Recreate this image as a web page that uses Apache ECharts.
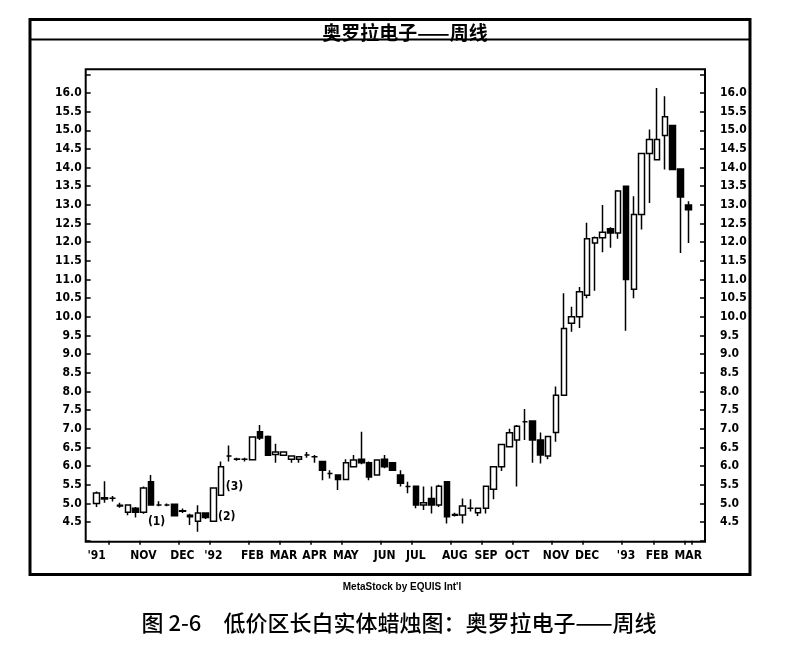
<!DOCTYPE html>
<html>
<head>
<meta charset="utf-8">
<script src="https://cdn.jsdelivr.net/npm/echarts@6.0.0/dist/echarts.min.js"></script>
<style>
body { margin: 0; background: #fff; }
#chart { width: 794px; height: 645px; }
</style>
</head>
<body>
<div id="chart"></div>
<script>
// weekly candles, Sep 1991 - Mar 1993
var opens = [5.0, 5.15, 5.14, 4.95, 4.76, 4.87, 4.76, 5.58, 4.96, 4.96,
	4.98, 4.8, 4.68, 4.52, 4.74, 4.52, 5.22, 6.27, 6.19, 6.18,
	6.17, 6.92, 6.79, 6.31, 6.29, 6.18, 6.18, 6.3, 6.25, 6.12,
	5.8, 5.76, 5.64, 5.98, 6.18, 6.09, 5.76, 6.18, 6.09, 5.76,
	5.45, 5.46, 4.96, 5.13, 4.96, 5.58, 4.7, 4.69, 4.87, 4.75,
	4.87, 5.38, 5.98, 6.52, 6.7, 7.19, 7.21, 6.7, 6.27, 6.9,
	7.9, 9.83, 10.0, 10.58, 11.98, 12.12, 12.36, 12.25, 13.5, 10.74,
	12.74, 14.38, 14.21, 14.86, 15.13, 13.96, 13.0];
var closes = [5.28, 5.12, 5.14, 4.93, 4.96, 4.76, 5.41, 4.96, 4.96, 4.96,
	4.67, 4.79, 4.64, 4.74, 4.62, 5.41, 5.98, 6.27, 6.18, 6.18,
	6.78, 6.75, 6.29, 6.38, 6.38, 6.27, 6.25, 6.3, 6.25, 5.89,
	5.8, 5.64, 6.09, 6.16, 6.09, 5.71, 6.16, 5.98, 5.89, 5.54,
	5.45, 4.96, 5.02, 4.96, 5.46, 4.64, 4.68, 4.93, 4.87, 4.87,
	5.46, 5.98, 6.58, 6.89, 7.07, 7.19, 6.7, 6.3, 6.79, 7.9,
	9.69, 10.0, 10.67, 12.09, 12.12, 12.27, 12.25, 13.37, 11.0, 12.74,
	14.38, 14.75, 14.75, 15.36, 13.95, 13.21, 12.87];
var lows = [4.9, 5.02, 5.05, 4.88, 4.68, 4.62, 4.72, 4.95, 4.92, 4.92,
	4.66, 4.74, 4.42, 4.24, 4.58, 4.5, 5.2, 6.12, 6.14, 6.12,
	6.16, 6.7, 6.28, 6.09, 6.27, 6.09, 6.09, 6.22, 6.09, 5.62,
	5.67, 5.36, 5.62, 5.96, 6.05, 5.62, 5.74, 5.94, 5.87, 5.45,
	5.27, 4.87, 4.82, 4.73, 4.9, 4.46, 4.65, 4.46, 4.78, 4.66,
	4.73, 5.11, 5.87, 6.5, 5.45, 6.7, 6.09, 6.07, 6.18, 6.65,
	7.88, 9.6, 9.7, 10.5, 10.7, 11.73, 11.85, 12.09, 9.63, 10.5,
	12.34, 13.05, 14.2, 13.95, 13.93, 11.71, 11.98];
var highs = [5.32, 5.59, 5.2, 5.02, 4.98, 4.9, 5.45, 5.76, 5.06, 5.0,
	5.0, 4.86, 4.72, 4.95, 4.76, 5.42, 6.12, 6.55, 6.22, 6.22,
	6.8, 7.1, 6.82, 6.6, 6.4, 6.28, 6.27, 6.38, 6.3, 6.14,
	5.89, 5.78, 6.18, 6.3, 6.92, 6.12, 6.18, 6.3, 6.11, 5.89,
	5.58, 5.48, 5.45, 5.45, 5.5, 5.6, 4.75, 5.13, 5.11, 4.89,
	5.48, 6.0, 6.6, 7.0, 7.1, 7.53, 7.23, 6.9, 6.81, 8.13,
	10.63, 10.27, 10.8, 12.52, 12.15, 13.0, 12.4, 13.4, 13.52, 13.23,
	14.4, 15.02, 16.13, 15.91, 15.15, 13.98, 13.1];

// month labels on the time axis (candle index -> text)
var labelIdx = [0, 6, 11, 15, 20, 24, 28, 32, 37, 41, 46, 50, 54, 59, 63, 68, 72, 76];
var labelText = ["'91", "NOV", "DEC", "'92", "FEB", "MAR", "APR", "MAY", "JUN", "JUL",
	"AUG", "SEP", "OCT", "NOV", "DEC", "'93", "FEB", "MAR"];
var tickIdx = [2, 6, 11, 15, 20, 24, 28, 32, 37, 41, 46, 50, 54, 59, 63, 68, 72, 76];

// notes on the chart: candle index, price, text
var noteIdx = [6, 15, 16];
var notePrice = [4.5, 4.63, 5.43];
var noteText = ['(1)', '(2)', '(3)'];

var weeks = [];
for (var i = 0; i < opens.length; i++) {
	var d = new Date(1991, 8, 20 + 7 * i);
	weeks.push(d.getFullYear() + '-' + (d.getMonth() + 1) + '-' + d.getDate());
}

var candles = [];
for (var i = 0; i < opens.length; i++) {
	candles.push([opens[i], closes[i], lows[i], highs[i]]);
}

var notes = [];
for (var i = 0; i < noteIdx.length; i++) {
	notes.push({ coord: [weeks[noteIdx[i]], notePrice[i]], value: noteText[i] });
}

var narrow = "'Liberation Sans Narrow', 'DejaVu Sans Condensed', sans-serif";
var cjk = "'Noto Sans CJK SC', sans-serif";

function yLabel(v) {
	if (v < 4.4 || v > 16.1) return '';
	return v.toFixed(1);
}

var chart = echarts.init(document.getElementById('chart'), null, { renderer: 'canvas' });
chart.setOption({
	backgroundColor: '#fff',
	animation: false,
	title: [ {
		text: '奥罗拉电子——周线',
		left: 400, top: 18, textAlign: 'center',
		textStyle: { fontFamily: cjk, fontSize: 19, fontWeight: 'bold', color: '#000' }
	}, {
		text: "MetaStock by EQUIS Int'l",
		left: 397, top: 577, textAlign: 'center',
		textStyle: { fontFamily: "'Liberation Sans', Arial, sans-serif", fontSize: 10, fontWeight: 'bold', color: '#000' }
	}, {
		text: '图 2-6　低价区长白实体蜡烛图：奥罗拉电子——周线',
		left: 394, top: 607, textAlign: 'center',
		textStyle: { fontFamily: cjk, fontSize: 22, fontWeight: 500, color: '#000' }
	} ],
	grid: { left: 92.8, right: 101.8, top: 74.3, bottom: 104.3 },
	xAxis: {
		type: 'category',
		data: weeks,
		boundaryGap: true,
		axisLine: { show: false },
		axisTick: {
			show: true, length: 4, inside: false,
			interval: function(idx) { return tickIdx.indexOf(idx) >= 0; },
			lineStyle: { color: '#000', width: 1.5 }
		},
		axisLabel: {
			interval: function(idx) { return labelIdx.indexOf(idx) >= 0; },
			formatter: function(v, idx) {
				var k = labelIdx.indexOf(idx);
				return k >= 0 ? labelText[k] : '';
			},
			margin: 9,
			color: '#000', fontFamily: narrow, fontSize: 12, fontWeight: 'bold'
		},
		splitLine: { show: false }
	},
	yAxis: [ {
		type: 'value', position: 'left', offset: 7.1,
		min: 4, max: 16.5, interval: 0.5,
		axisLine: { show: false },
		axisTick: { show: true, inside: true, length: 5, lineStyle: { color: '#000', width: 1.5 } },
		axisLabel: { formatter: yLabel, margin: 4, color: '#000', fontFamily: narrow, fontSize: 12, fontWeight: 'bold' },
		splitLine: { show: false }
	}, {
		type: 'value', position: 'right', offset: 12.8,
		min: 4, max: 16.5, interval: 0.5,
		axisLine: { show: false },
		axisTick: { show: true, inside: true, length: 5, lineStyle: { color: '#000', width: 1.5 } },
		axisLabel: { formatter: yLabel, margin: 15, color: '#000', fontFamily: narrow, fontSize: 12, fontWeight: 'bold' },
		splitLine: { show: false }
	} ],
	series: [ {
		name: '奥罗拉电子',
		type: 'candlestick',
		data: candles,
		barWidth: 6,
		itemStyle: {
			color: '#fff', color0: '#000',
			borderColor: '#000', borderColor0: '#000', borderColorDoji: '#000',
			borderWidth: 1.5
		},
		markPoint: {
			symbol: 'circle', symbolSize: 1,
			itemStyle: { color: 'rgba(0,0,0,0)' },
			label: {
				show: true, position: 'right', distance: 4,
				formatter: function(p) { return p.value; },
				color: '#000', fontFamily: narrow, fontSize: 12, fontWeight: 'bold'
			},
			data: notes
		}
	} ],
	graphic: [ {
		type: 'rect', silent: true,
		shape: { x: 30, y: 19.5, width: 720, height: 555 },
		style: { fill: null, stroke: '#000', lineWidth: 3 }
	}, {
		type: 'line', silent: true,
		shape: { x1: 30, y1: 39.5, x2: 750, y2: 39.5 },
		style: { stroke: '#000', lineWidth: 2 }
	}, {
		type: 'rect', silent: true,
		shape: { x: 85.7, y: 69.3, width: 619.3, height: 472.5 },
		style: { fill: null, stroke: '#000', lineWidth: 2 }
	} ]
});
</script>
</body>
</html>
